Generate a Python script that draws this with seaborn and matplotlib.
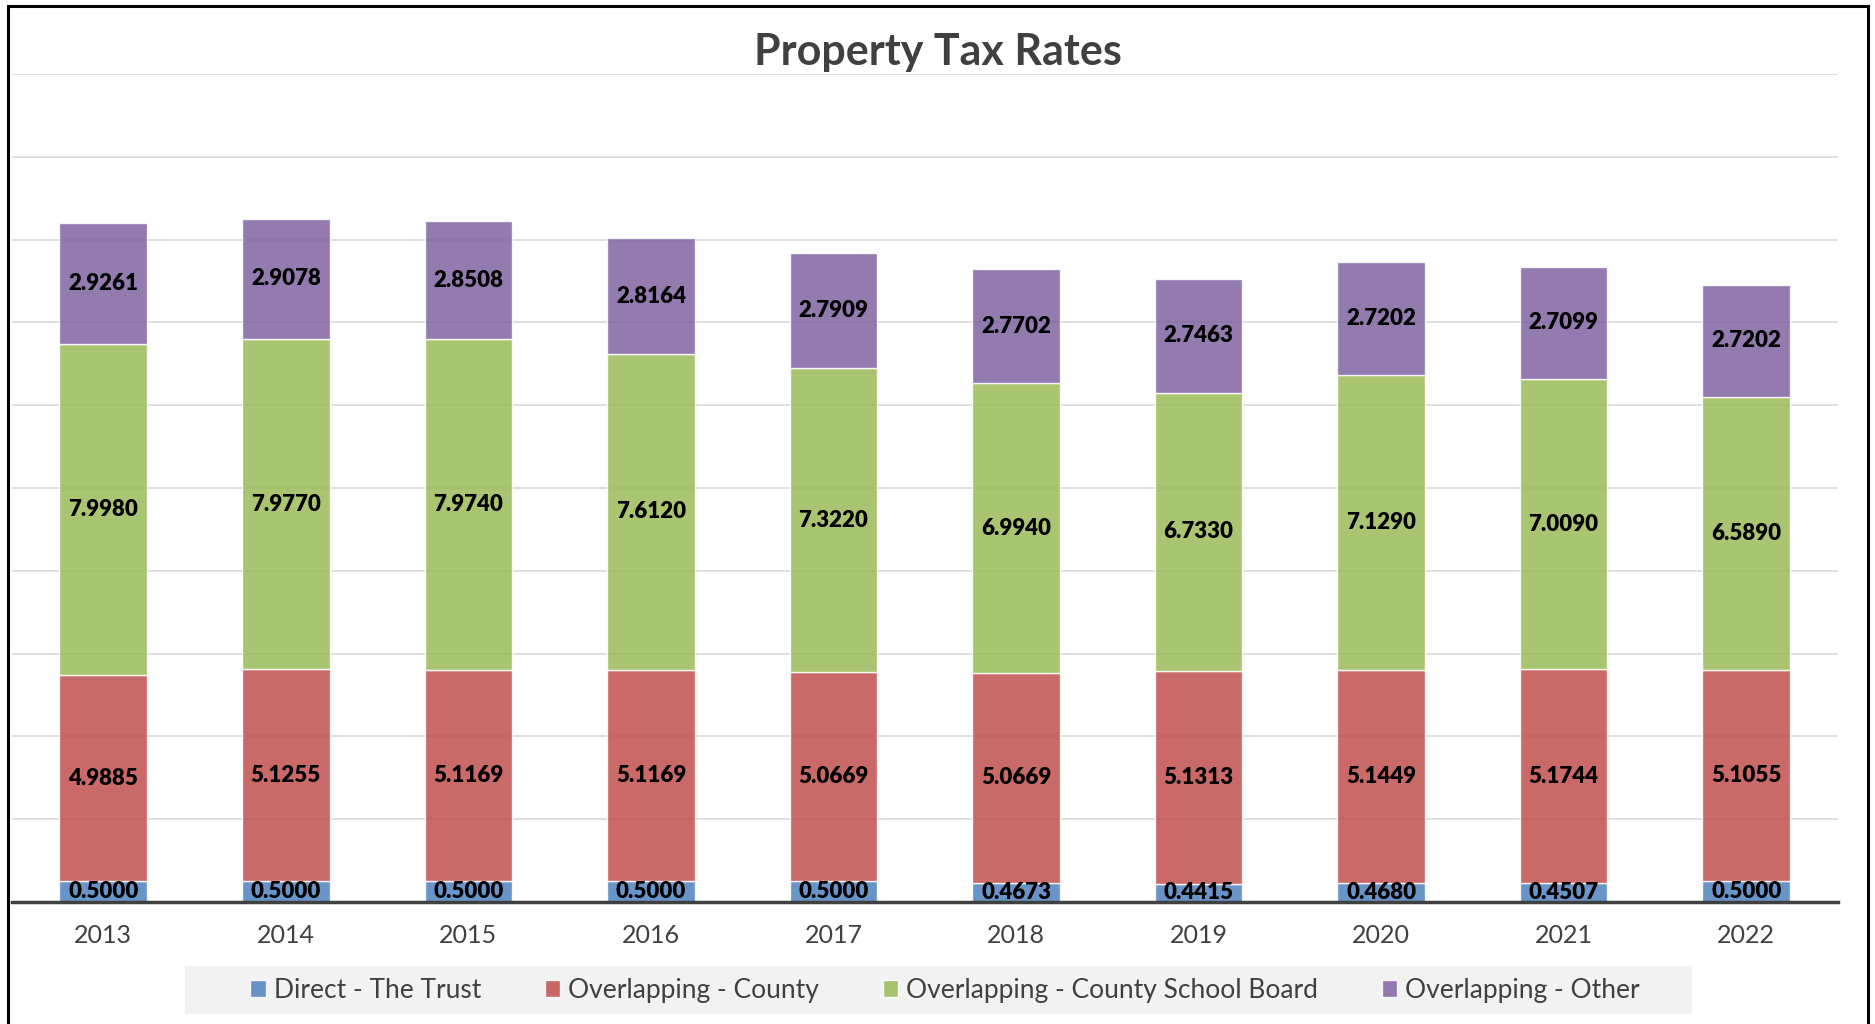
import numpy as np
import seaborn as sns
import matplotlib.pyplot as plt
from matplotlib.patches import Rectangle

years = ['2013', '2014', '2015', '2016', '2017', '2018', '2019', '2020', '2021', '2022']
direct = [0.5000, 0.5000, 0.5000, 0.5000, 0.5000, 0.4673, 0.4415, 0.4680, 0.4507, 0.5000]
county = [4.9885, 5.1255, 5.1169, 5.1169, 5.0669, 5.0669, 5.1313, 5.1449, 5.1744, 5.1055]
school = [7.9980, 7.9770, 7.9740, 7.6120, 7.3220, 6.9940, 6.7330, 7.1290, 7.0090, 6.5890]
other = [2.9261, 2.9078, 2.8508, 2.8164, 2.7909, 2.7702, 2.7463, 2.7202, 2.7099, 2.7202]

series_names = ['Direct - The Trust', 'Overlapping - County',
                'Overlapping - County School Board', 'Overlapping - Other']
colors = ['#4F81BD', '#C0504D', '#9BBB59', '#8064A2']

sns.set_theme(style='white')
plt.rcParams['font.family'] = ['Lato', 'DejaVu Sans']

fig = plt.figure(figsize=(18.75, 10.24), dpi=100)
ax = fig.add_axes([0.0064, 0.1191, 0.9736, 0.8086])

x = np.arange(len(years))
bottom = np.zeros(len(years))
for name, vals, c in zip(series_names, [direct, county, school, other], colors):
    vals = np.array(vals)
    ax.bar(x, vals, width=0.48, bottom=bottom, color=c, alpha=0.85,
           edgecolor='white', linewidth=1, label=name, zorder=2)
    for xi, b, v in zip(x, bottom, vals):
        ax.text(xi, b + v / 2, f'{v:.4f}', ha='center', va='center',
                fontsize=16, fontweight='heavy', color='black', zorder=4)
    bottom += vals

ax.set_xlim(-0.5, len(years) - 0.5)
ax.set_ylim(0, 20)
ax.set_yticks(np.arange(0, 21, 2))
ax.set_yticklabels([])
ax.tick_params(axis='y', length=0)
ax.yaxis.grid(True, color='#d9d9d9', linewidth=1.2, zorder=0)
ax.set_axisbelow(True)
ax.set_xticks(x)
ax.set_xticklabels(years, fontsize=18, color='#404040')
ax.tick_params(axis='x', length=0, pad=16)
sns.despine(ax=ax, left=True, right=True, top=True)
ax.spines['bottom'].set_color('#404040')
ax.spines['bottom'].set_linewidth(2.5)
ax.spines['bottom'].set_zorder(5)

fig.text(0.5, 0.949, 'Property Tax Rates', ha='center', va='center',
         fontsize=31, fontweight='bold', color='#404040')

# grey band behind the legend
fig.patches.append(Rectangle((185 / 1875, 1 - 1014 / 1024), 1507 / 1875, 48 / 1024,
                             transform=fig.transFigure, facecolor='#f2f2f2',
                             edgecolor='none', zorder=0))

leg = fig.legend(loc='center', bbox_to_anchor=(0.504, 0.033), ncol=4,
                 fontsize=19, frameon=False, handlelength=0.6, handleheight=0.6,
                 handletextpad=0.3, columnspacing=2.4, borderpad=0.2)
for t in leg.get_texts():
    t.set_color('#404040')

fig.patches.append(Rectangle((8 / 1875, -0.01), 1860 / 1875, 1.01 - 6 / 1024,
                             transform=fig.transFigure, fill=False,
                             edgecolor='black', linewidth=2.2))

fig.savefig('out.png', dpi=100)
